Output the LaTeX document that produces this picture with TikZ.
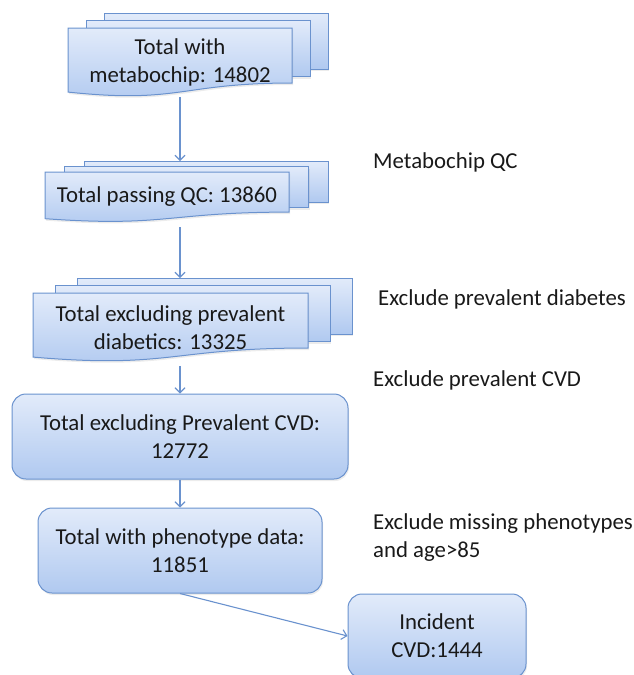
\documentclass[tikz,border=0pt]{standalone}
\usepackage{fontspec}
\setmainfont{Carlito}
\usepackage{tikz}
\usetikzlibrary{arrows.meta, shadows}
\definecolor{edge}{RGB}{106, 146, 206}
\definecolor{light}{RGB}{226, 235, 250}
\definecolor{mid}{RGB}{176, 201, 240}
\definecolor{ink}{RGB}{25, 25, 25}

\tikzset{
  docfill/.style={draw=edge, line width=1pt, top color=light, bottom color=mid,
    drop shadow={shadow xshift=1pt, shadow yshift=-2pt, opacity=0.15}},
  front/.style={inner sep=0pt, align=center, text=ink},
  stepbox/.style={docfill, rounded corners=14pt, inner sep=0pt, align=center, text=ink},
  note/.style={anchor=west, align=left, inner sep=0pt, text=ink},
  flow/.style={draw=edge, line width=1.1pt, -{Straight Barb[length=5pt, width=10pt]}}
}

% stack of three documents: name, x, y, width, height, dx, dy, text
\newcommand{\docstack}[8]{%
  \foreach \k in {2, 1} {
    \draw[docfill] (#2+\k*#6, #3-\k*#7) rectangle ++(#4, 0.802*#5+1);
  }
  \draw[docfill] (#2, #3) -- ++(#4, 0) -- ++(0, 0.802*#5)
    .. controls +(-#4/2, 0) and (#2+#4/2, #3+1.1075*#5) .. (#2, #3+0.934*#5) -- cycle;
  \node[front, minimum width=#4, minimum height=#5] (#1) at (#2+#4/2, #3+#5/2) {#8};
  \coordinate (#1-top) at (#2+#4/2+2*#6, #3-2*#7);
}

\begin{document}
\begin{tikzpicture}[x=1pt, y=-1pt, font=\fontsize{22.8}{28}\selectfont]
  \clip (0, 0) rectangle (633, 675);

  % document stacks
  \docstack{chip}{68}{28}{224}{68.6}{18}{7.5}{Total with\\metabochip: 14802}
  \docstack{qc}{45}{172}{244}{50}{19.5}{5.5}{Total passing QC: 13860}
  \docstack{diab}{33}{293}{275}{68.6}{22}{7.5}{Total excluding prevalent\\diabetics: 13325}

  % rounded boxes
  \node[stepbox, minimum width=336, minimum height=85] (cvd) at (180, 436.5)
    {Total excluding Prevalent CVD:\\12772};
  \node[stepbox, minimum width=284, minimum height=85] (pheno) at (180, 550.5)
    {Total with phenotype data:\\11851};
  \node[stepbox, minimum width=178, minimum height=84] (inc) at (437, 636)
    {Incident\\CVD:1444};

  % arrows
  \draw[flow] (chip.south) -- (chip.south |- qc-top);
  \draw[flow, shorten <=5pt] (cvd.north |- qc.south) -- (cvd.north |- diab-top);
  \draw[flow, shorten <=4pt] (cvd.north |- diab.south) -- (cvd.north);
  \draw[flow] (cvd.south) -- (pheno.north);
  \draw[flow] (pheno.south) -- (inc.west);

  % exclusion notes
  \node[note] (n1) at (373, 162) {Metabochip QC};
  \node[note] (n2) at (378, 299) {Exclude prevalent diabetes};
  \node[note] (n3) at (373, 380) {Exclude prevalent CVD};
  \node[note] (n4) at (373, 538) {Exclude missing phenotypes\\and age>85};
\end{tikzpicture}
\end{document}
